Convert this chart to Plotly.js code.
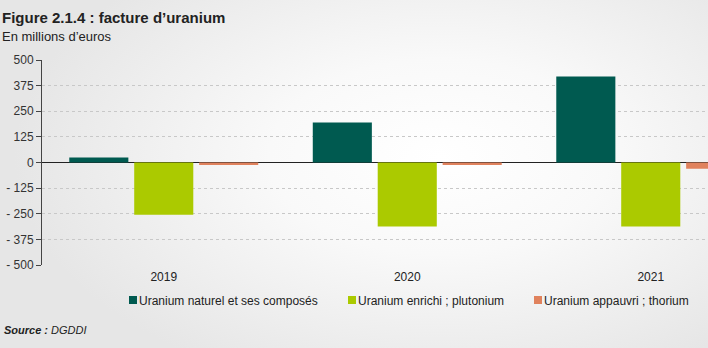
<!DOCTYPE html>
<html><head><meta charset="utf-8">
<script src="https://cdn.plot.ly/plotly-3.0.1.min.js"></script>
<style>
html,body{margin:0;padding:0;}
body{width:708px;height:348px;background:radial-gradient(ellipse 60% 70% at 62% 45%, #ffffff 0%, #f9f9f9 40%, #e6e6e6 100%);}
#chart{width:708px;height:348px;}
</style></head>
<body><div id="chart"></div>
<script>
const years = ['2019', '2020', '2021'];
const seriesNames = ['Uranium naturel et ses composés', 'Uranium enrichi ; plutonium', 'Uranium appauvri ; thorium'];
const naturel = [25, 195, 420];
const enrichi = [-255, -312, -312];
const appauvri = [-12, -12, -30];
const yTickVals = [500, 375, 250, 125, 0, -125, -250, -375, -500];
const yTickText = ['500', '375', '250', '125', '0', '- 125', '- 250', '- 375', '- 500'];
const colors = ['#005a50', '#abca00', '#e0825d'];

const values = [naturel, enrichi, appauvri];
const traces = values.map((v, i) => ({
  type: 'bar', x: years, y: v, name: seriesNames[i],
  marker: {color: colors[i], line: {width: 0}}
}));

const font = 'Liberation Sans, Arial, sans-serif';
const layout = {
  width: 708, height: 348,
  margin: {l: 42, r: 0, t: 60, b: 83},
  paper_bgcolor: 'rgba(0,0,0,0)', plot_bgcolor: 'rgba(0,0,0,0)',
  font: {family: font, size: 11, color: '#333'},
  barmode: 'group', bargap: 0.2, bargroupgap: 0.09,
  showlegend: true,
  legend: {orientation: 'h', xref: 'container', x: 0, xanchor: 'left', yref: 'container', y: (348 - 300) / 348, yanchor: 'middle',
           font: {size: 12, color: '#222'}, bgcolor: 'rgba(0,0,0,0)', traceorder: 'normal',
           itemwidth: 30, tracegroupgap: 0},
  xaxis: {type: 'category', range: [-0.5, -0.5 + 666/243.5], showline: false, ticks: '',
          showgrid: false, zeroline: false, tickfont: {size: 12, color: '#222'}, ticklabelstandoff: 3, fixedrange: true},
  yaxis: {range: [-500, 500], tickvals: yTickVals, ticktext: yTickText,
          showline: true, linecolor: '#444', linewidth: 1, ticks: 'outside', ticklen: 5,
          tickcolor: '#444', showgrid: true, gridcolor: '#c8c8c8', griddash: 'dot', gridwidth: 1,
          zeroline: true, zerolinecolor: '#222', zerolinewidth: 1,
          tickfont: {size: 12, color: '#333'}, fixedrange: true},
  annotations: [
    {xref: 'paper', yref: 'paper', x: -42/666, y: 1 + 43/205, xanchor: 'left', yanchor: 'middle',
     text: '<b>Figure 2.1.4 : facture d\u2019uranium</b>', showarrow: false,
     font: {size: 15, color: '#222', family: font}},
    {xref: 'paper', yref: 'paper', x: -42/666, y: 1 + 23/205, xanchor: 'left', yanchor: 'middle',
     text: 'En millions d\u2019euros', showarrow: false, font: {size: 13, color: '#222', family: font}},
    {xref: 'paper', yref: 'paper', x: -40/666, y: -(330 - 265)/205, xanchor: 'left', yanchor: 'middle',
     text: '<b><i>Source :</i></b><i> DGDDI</i>', showarrow: false, font: {size: 11, color: '#222', family: font}}
  ]
};
const legendTextStarts = [139, 358, 544];
Plotly.newPlot('chart', traces, layout, {displayModeBar: false, staticPlot: true}).then(gd => {
  gd.querySelectorAll('.legend .scrollbox, .legend').forEach(el => el.removeAttribute('clip-path'));
  gd.querySelectorAll('.legend [clip-path]').forEach(el => el.removeAttribute('clip-path'));
  const items = gd.querySelectorAll('.legend .traces');
  items.forEach((g, i) => {
    const txt = g.querySelector('text.legendtext');
    const sym = g.querySelector('.legendpoints path');
    if (sym) { sym.setAttribute('d', 'M4,4H-4V-4H4Z'); sym.setAttribute('transform', 'translate(34,0)'); }
    if (!txt) return;
    const left = txt.getBoundingClientRect().left;
    const tr = g.getAttribute('transform') || '';
    const m = /translate\(([-\d.]+)[ ,]+([-\d.]+)\)/.exec(tr);
    if (m) g.setAttribute('transform', 'translate(' + (parseFloat(m[1]) + legendTextStarts[i] - left) + ',' + m[2] + ')');
  });
});
</script></body></html>
